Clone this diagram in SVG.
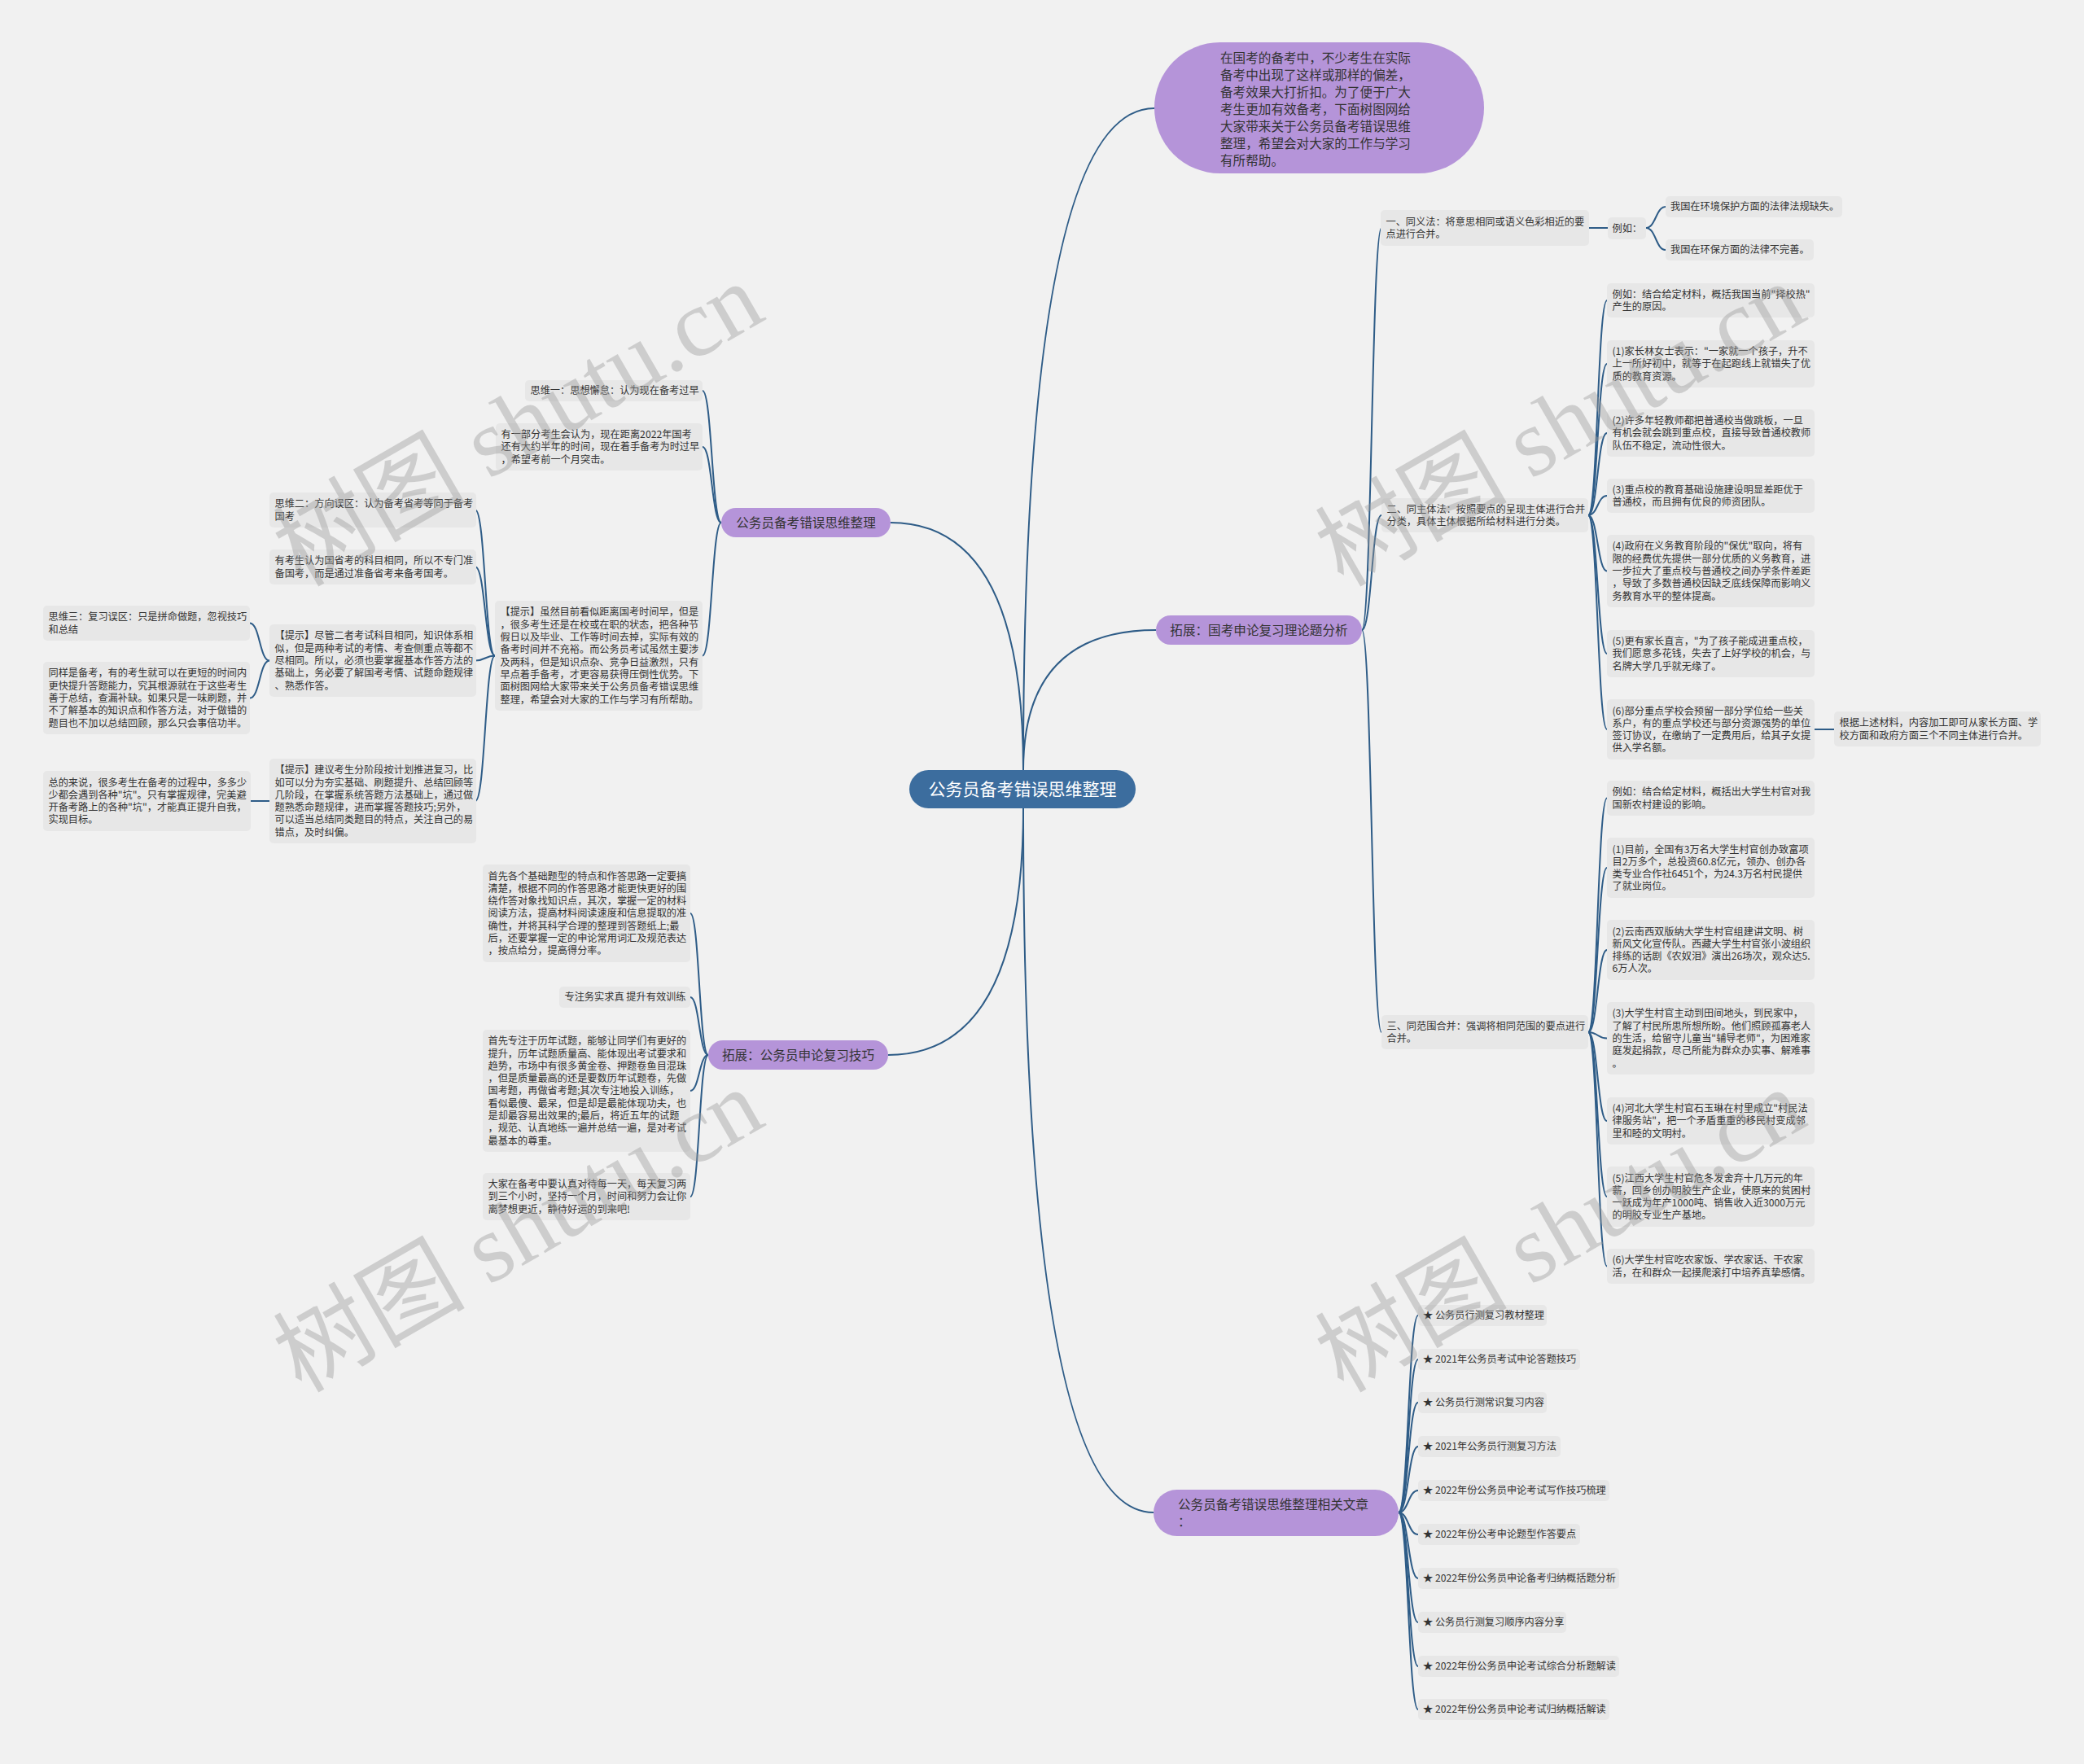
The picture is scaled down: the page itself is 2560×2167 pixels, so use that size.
<svg xmlns="http://www.w3.org/2000/svg" width="2560" height="2167" viewBox="0 0 2560 2167">
<style>
.lf{fill:#e7e7e7}
.t{font-family:'Noto Sans CJK SC','Liberation Sans',sans-serif;font-size:12.2px;fill:#333}
.pill{fill:#b594d9}
.pt{font-family:'Noto Sans CJK SC','Liberation Sans',sans-serif;font-size:15.6px;fill:#333}
.rt{font-family:'Noto Sans CJK SC','Liberation Sans',sans-serif;font-size:21px;fill:#fff}
.c{fill:none;stroke:#2e5c87;stroke-width:2}
.wm{font-family:'Liberation Serif','Noto Sans CJK SC',serif;font-size:118px;fill:#999;opacity:.4}
</style>
<rect x="0" y="0" width="2560" height="2167" fill="#f1f1f1"/>
<g id="connectors">
<path class="c" d="M1257 946 Q1257 133 1418 133"/>
<path class="c" d="M1257 946 Q1257 774 1420 774"/>
<path class="c" d="M1257 993 Q1257 1858 1417 1858"/>
<path class="c" d="M1257 946 Q1257 642 1094 642"/>
<path class="c" d="M1257 993 Q1257 1296 1091 1296"/>
<path class="c" d="M1673 774 C1685 774 1685 280 1697 280"/>
<path class="c" d="M1673 774 C1685 774 1685 633 1697 633"/>
<path class="c" d="M1673 774 C1685 774 1685 1268 1697 1268"/>
<path class="c" d="M1952 280 L1975 280"/>
<path class="c" d="M2022 280 C2034 280 2034 254 2046 254"/>
<path class="c" d="M2022 280 C2034 280 2034 307 2046 307"/>
<path class="c" d="M1951 633 C1962.5 633 1962.5 369 1974 369"/>
<path class="c" d="M1951 633 C1962.5 633 1962.5 447 1974 447"/>
<path class="c" d="M1951 633 C1962.5 633 1962.5 532 1974 532"/>
<path class="c" d="M1951 633 C1962.5 633 1962.5 609 1974 609"/>
<path class="c" d="M1951 633 C1962.5 633 1962.5 701.5 1974 701.5"/>
<path class="c" d="M1951 633 C1962.5 633 1962.5 803 1974 803"/>
<path class="c" d="M1951 633 C1962.5 633 1962.5 896 1974 896"/>
<path class="c" d="M2229 896 L2253 896"/>
<path class="c" d="M1951 1268 C1962.5 1268 1962.5 980.5 1974 980.5"/>
<path class="c" d="M1951 1268 C1962.5 1268 1962.5 1066 1974 1066"/>
<path class="c" d="M1951 1268 C1962.5 1268 1962.5 1167 1974 1167"/>
<path class="c" d="M1951 1268 C1962.5 1268 1962.5 1275.5 1974 1275.5"/>
<path class="c" d="M1951 1268 C1962.5 1268 1962.5 1377 1974 1377"/>
<path class="c" d="M1951 1268 C1962.5 1268 1962.5 1470 1974 1470"/>
<path class="c" d="M1951 1268 C1962.5 1268 1962.5 1555.5 1974 1555.5"/>
<path class="c" d="M1718 1858 C1730 1858 1730 1616 1742 1616"/>
<path class="c" d="M1718 1858 C1730 1858 1730 1670 1742 1670"/>
<path class="c" d="M1718 1858 C1730 1858 1730 1723 1742 1723"/>
<path class="c" d="M1718 1858 C1730 1858 1730 1777 1742 1777"/>
<path class="c" d="M1718 1858 C1730 1858 1730 1831 1742 1831"/>
<path class="c" d="M1718 1858 C1730 1858 1730 1885 1742 1885"/>
<path class="c" d="M1718 1858 C1730 1858 1730 1939 1742 1939"/>
<path class="c" d="M1718 1858 C1730 1858 1730 1993 1742 1993"/>
<path class="c" d="M1718 1858 C1730 1858 1730 2047 1742 2047"/>
<path class="c" d="M1718 1858 C1730 1858 1730 2100 1742 2100"/>
<path class="c" d="M886 642 C874.5 642 874.5 480 863 480"/>
<path class="c" d="M886 642 C874.5 642 874.5 549 863 549"/>
<path class="c" d="M886 642 C874.5 642 874.5 805.5 863 805.5"/>
<path class="c" d="M608 805.5 C596 805.5 596 626.5 584 626.5"/>
<path class="c" d="M608 805.5 C596 805.5 596 696.5 584 696.5"/>
<path class="c" d="M608 805.5 C596 805.5 596 811.5 584 811.5"/>
<path class="c" d="M608 805.5 C596 805.5 596 984 584 984"/>
<path class="c" d="M331 811.5 C319 811.5 319 765.5 307 765.5"/>
<path class="c" d="M331 811.5 C319 811.5 319 857.5 307 857.5"/>
<path class="c" d="M331 984 L308 984"/>
<path class="c" d="M870 1296 C859 1296 859 1122 848 1122"/>
<path class="c" d="M870 1296 C859 1296 859 1225 848 1225"/>
<path class="c" d="M870 1296 C859 1296 859 1340 848 1340"/>
<path class="c" d="M870 1296 C859 1296 859 1470 848 1470"/>
</g>
<g id="root"><rect x="1117" y="946" width="278" height="47" rx="23.5" fill="#3c6d9e"/><text class="rt" x="1256" y="976.5" text-anchor="middle">公务员备考错误思维整理</text></g>
<g id="intro"><rect class="pill" x="1418" y="52" width="405" height="161" rx="80.5"/>
<text class="pt" x="1499" y="77"><tspan>在国考的备考中，不少考生在实际</tspan><tspan x="1499" dy="20.95">备考中出现了这样或那样的偏差，</tspan><tspan x="1499" dy="20.95">备考效果大打折扣。为了便于广大</tspan><tspan x="1499" dy="20.95">考生更加有效备考，下面树图网给</tspan><tspan x="1499" dy="20.95">大家带来关于公务员备考错误思维</tspan><tspan x="1499" dy="20.95">整理，希望会对大家的工作与学习</tspan><tspan x="1499" dy="20.95">有所帮助。</tspan></text></g>
<g id="branch-r"><rect class="pill" x="1420" y="756" width="253" height="36" rx="18"/><text class="pt" x="1546.5" y="780" text-anchor="middle">拓展：国考申论复习理论题分析</text></g>
<g id="branch-related"><rect class="pill" x="1417" y="1830" width="301" height="57" rx="28.5"/><text class="pt" x="1447" y="1853.5"><tspan>公务员备考错误思维整理相关文章</tspan><tspan x="1447" dy="21.5">：</tspan></text></g>
<g id="branch-l1"><rect class="pill" x="886" y="624" width="208" height="36" rx="18"/><text class="pt" x="990" y="648" text-anchor="middle">公务员备考错误思维整理</text></g>
<g id="branch-l2"><rect class="pill" x="870" y="1278" width="221" height="36" rx="18"/><text class="pt" x="980.5" y="1302" text-anchor="middle">拓展：公务员申论复习技巧</text></g>

<g id="r1"><rect class="lf" x="1696" y="258" width="256" height="44" rx="5"/><text class="t" x="1702.5" y="276.8"><tspan>一、同义法：将意思相同或语义色彩相近的要</tspan><tspan x="1702.5" dy="15.3">点进行合并。</tspan></text></g>
<g id="r1-eg"><rect class="lf" x="1975" y="267" width="47" height="27" rx="5"/><text class="t" x="1980.5" y="285">例如：</text></g>
<g id="r1-a"><rect class="lf" x="2046" y="241" width="217" height="26" rx="5"/><text class="t" x="2052" y="258.4">我国在环境保护方面的法律法规缺失。</text></g>
<g id="r1-b"><rect class="lf" x="2046" y="294" width="182" height="26" rx="5"/><text class="t" x="2052" y="311.4">我国在环保方面的法律不完善。</text></g>

<g id="r2"><rect class="lf" x="1697" y="612" width="254" height="42" rx="5"/><text class="t" x="1703.5" y="629.8"><tspan>二、同主体法：按照要点的呈现主体进行合并</tspan><tspan x="1703.5" dy="15.3">分类，具体主体根据所给材料进行分类。</tspan></text></g>
<g id="r2-0"><rect class="lf" x="1974" y="348" width="255" height="42" rx="5"/><text class="t" x="1980.5" y="365.8"><tspan>例如：结合给定材料，概括我国当前"择校热"</tspan><tspan x="1980.5" dy="15.3">产生的原因。</tspan></text></g>
<g id="r2-1"><rect class="lf" x="1974" y="418" width="255" height="58" rx="5"/><text class="t" x="1980.5" y="436.1"><tspan>(1)家长林女士表示："一家就一个孩子，升不</tspan><tspan x="1980.5" dy="15.3">上一所好初中，就等于在起跑线上就错失了优</tspan><tspan x="1980.5" dy="15.3">质的教育资源。</tspan></text></g>
<g id="r2-2"><rect class="lf" x="1974" y="503" width="255" height="58" rx="5"/><text class="t" x="1980.5" y="521.1"><tspan>(2)许多年轻教师都把普通校当做跳板，一旦</tspan><tspan x="1980.5" dy="15.3">有机会就会跳到重点校，直接导致普通校教师</tspan><tspan x="1980.5" dy="15.3">队伍不稳定，流动性很大。</tspan></text></g>
<g id="r2-3"><rect class="lf" x="1974" y="588" width="255" height="42" rx="5"/><text class="t" x="1980.5" y="605.8"><tspan>(3)重点校的教育基础设施建设明显差距优于</tspan><tspan x="1980.5" dy="15.3">普通校，而且拥有优良的师资团队。</tspan></text></g>
<g id="r2-4"><rect class="lf" x="1974" y="657" width="255" height="89" rx="5"/><text class="t" x="1980.5" y="675.3"><tspan>(4)政府在义务教育阶段的"保优"取向，将有</tspan><tspan x="1980.5" dy="15.3">限的经费优先提供一部分优质的义务教育，进</tspan><tspan x="1980.5" dy="15.3">一步拉大了重点校与普通校之间办学条件差距</tspan><tspan x="1980.5" dy="15.3">，导致了多数普通校因缺乏底线保障而影响义</tspan><tspan x="1980.5" dy="15.3">务教育水平的整体提高。</tspan></text></g>
<g id="r2-5"><rect class="lf" x="1974" y="774" width="255" height="58" rx="5"/><text class="t" x="1980.5" y="792.1"><tspan>(5)更有家长直言，"为了孩子能成进重点校，</tspan><tspan x="1980.5" dy="15.3">我们愿意多花钱，失去了上好学校的机会，与</tspan><tspan x="1980.5" dy="15.3">名牌大学几乎就无缘了。</tspan></text></g>
<g id="r2-6"><rect class="lf" x="1974" y="859" width="255" height="74" rx="5"/><text class="t" x="1980.5" y="877.5"><tspan>(6)部分重点学校会预留一部分学位给一些关</tspan><tspan x="1980.5" dy="15.3">系户，有的重点学校还与部分资源强势的单位</tspan><tspan x="1980.5" dy="15.3">签订协议，在缴纳了一定费用后，给其子女提</tspan><tspan x="1980.5" dy="15.3">供入学名额。</tspan></text></g>
<g id="r2-7"><rect class="lf" x="2253" y="874" width="254" height="43" rx="5"/><text class="t" x="2259.5" y="892.3"><tspan>根据上述材料，内容加工即可从家长方面、学</tspan><tspan x="2259.5" dy="15.3">校方面和政府方面三个不同主体进行合并。</tspan></text></g>

<g id="r3"><rect class="lf" x="1697" y="1247" width="254" height="42" rx="5"/><text class="t" x="1703.5" y="1264.8"><tspan>三、同范围合并：强调将相同范围的要点进行</tspan><tspan x="1703.5" dy="15.3">合并。</tspan></text></g>
<g id="r3-0"><rect class="lf" x="1974" y="959" width="255" height="43" rx="5"/><text class="t" x="1980.5" y="977.3"><tspan>例如：结合给定材料，概括出大学生村官对我</tspan><tspan x="1980.5" dy="15.3">国新农村建设的影响。</tspan></text></g>
<g id="r3-1"><rect class="lf" x="1974" y="1029" width="255" height="74" rx="5"/><text class="t" x="1980.5" y="1047.5"><tspan>(1)目前，全国有3万名大学生村官创办致富项</tspan><tspan x="1980.5" dy="15.3">目2万多个，总投资60.8亿元，领办、创办各</tspan><tspan x="1980.5" dy="15.3">类专业合作社6451个，为24.3万名村民提供</tspan><tspan x="1980.5" dy="15.3">了就业岗位。</tspan></text></g>
<g id="r3-2"><rect class="lf" x="1974" y="1130" width="255" height="74" rx="5"/><text class="t" x="1980.5" y="1148.5"><tspan>(2)云南西双版纳大学生村官组建讲文明、树</tspan><tspan x="1980.5" dy="15.3">新风文化宣传队。西藏大学生村官张小波组织</tspan><tspan x="1980.5" dy="15.3">排练的话剧《农奴泪》演出26场次，观众达5.</tspan><tspan x="1980.5" dy="15.3">6万人次。</tspan></text></g>
<g id="r3-3"><rect class="lf" x="1974" y="1231" width="255" height="89" rx="5"/><text class="t" x="1980.5" y="1249.3"><tspan>(3)大学生村官主动到田间地头，到民家中，</tspan><tspan x="1980.5" dy="15.3">了解了村民所思所想所盼。他们照顾孤寡老人</tspan><tspan x="1980.5" dy="15.3">的生活，给留守儿童当"辅导老师"，为困难家</tspan><tspan x="1980.5" dy="15.3">庭发起捐款，尽己所能为群众办实事、解难事</tspan><tspan x="1980.5" dy="15.3">。</tspan></text></g>
<g id="r3-4"><rect class="lf" x="1974" y="1348" width="255" height="58" rx="5"/><text class="t" x="1980.5" y="1366.1"><tspan>(4)河北大学生村官石玉琳在村里成立"村民法</tspan><tspan x="1980.5" dy="15.3">律服务站"，把一个矛盾重重的移民村变成邻</tspan><tspan x="1980.5" dy="15.3">里和睦的文明村。</tspan></text></g>
<g id="r3-5"><rect class="lf" x="1974" y="1433" width="255" height="74" rx="5"/><text class="t" x="1980.5" y="1451.5"><tspan>(5)江西大学生村官危冬发舍弃十几万元的年</tspan><tspan x="1980.5" dy="15.3">薪，回乡创办明胶生产企业，使原来的贫困村</tspan><tspan x="1980.5" dy="15.3">一跃成为年产1000吨、销售收入近3000万元</tspan><tspan x="1980.5" dy="15.3">的明胶专业生产基地。</tspan></text></g>
<g id="r3-6"><rect class="lf" x="1974" y="1534" width="255" height="43" rx="5"/><text class="t" x="1980.5" y="1552.3"><tspan>(6)大学生村官吃农家饭、学农家话、干农家</tspan><tspan x="1980.5" dy="15.3">活，在和群众一起摸爬滚打中培养真挚感情。</tspan></text></g>

<g id="rel-0"><rect class="lf" x="1742" y="1603" width="158" height="26" rx="5"/><text class="t" x="1748" y="1620.4">★ 公务员行测复习教材整理</text></g>
<g id="rel-1"><rect class="lf" x="1742" y="1657" width="199" height="26" rx="5"/><text class="t" x="1748" y="1674.4">★ 2021年公务员考试申论答题技巧</text></g>
<g id="rel-2"><rect class="lf" x="1742" y="1710" width="158" height="26" rx="5"/><text class="t" x="1748" y="1727.4">★ 公务员行测常识复习内容</text></g>
<g id="rel-3"><rect class="lf" x="1742" y="1764" width="175" height="26" rx="5"/><text class="t" x="1748" y="1781.4">★ 2021年公务员行测复习方法</text></g>
<g id="rel-4"><rect class="lf" x="1742" y="1818" width="235" height="26" rx="5"/><text class="t" x="1748" y="1835.4">★ 2022年份公务员申论考试写作技巧梳理</text></g>
<g id="rel-5"><rect class="lf" x="1742" y="1872" width="199" height="26" rx="5"/><text class="t" x="1748" y="1889.4">★ 2022年份公考申论题型作答要点</text></g>
<g id="rel-6"><rect class="lf" x="1742" y="1926" width="247" height="26" rx="5"/><text class="t" x="1748" y="1943.4">★ 2022年份公务员申论备考归纳概括题分析</text></g>
<g id="rel-7"><rect class="lf" x="1742" y="1980" width="182" height="26" rx="5"/><text class="t" x="1748" y="1997.4">★ 公务员行测复习顺序内容分享</text></g>
<g id="rel-8"><rect class="lf" x="1742" y="2034" width="247" height="26" rx="5"/><text class="t" x="1748" y="2051.4">★ 2022年份公务员申论考试综合分析题解读</text></g>
<g id="rel-9"><rect class="lf" x="1742" y="2087" width="235" height="26" rx="5"/><text class="t" x="1748" y="2104.4">★ 2022年份公务员申论考试归纳概括解读</text></g>

<g id="l1-a"><rect class="lf" x="645" y="467" width="218" height="26" rx="5"/><text class="t" x="651.5" y="484.4">思维一：思想懈怠：认为现在备考过早</text></g>
<g id="l1-b"><rect class="lf" x="609" y="520" width="254" height="58" rx="5"/><text class="t" x="615.5" y="538.1"><tspan>有一部分考生会认为，现在距离2022年国考</tspan><tspan x="615.5" dy="15.3">还有大约半年的时间，现在着手备考为时过早</tspan><tspan x="615.5" dy="15.3">，希望考前一个月突击。</tspan></text></g>
<g id="l1-c"><rect class="lf" x="608" y="738" width="255" height="135" rx="5"/><text class="t" x="614.5" y="756.4"><tspan>【提示】虽然目前看似距离国考时间早，但是</tspan><tspan x="614.5" dy="15.3">，很多考生还是在校或在职的状态，把各种节</tspan><tspan x="614.5" dy="15.3">假日以及毕业、工作等时间去掉，实际有效的</tspan><tspan x="614.5" dy="15.3">备考时间并不充裕。而公务员考试虽然主要涉</tspan><tspan x="614.5" dy="15.3">及两科，但是知识点杂、竞争日益激烈，只有</tspan><tspan x="614.5" dy="15.3">早点着手备考，才更容易获得压倒性优势。下</tspan><tspan x="614.5" dy="15.3">面树图网给大家带来关于公务员备考错误思维</tspan><tspan x="614.5" dy="15.3">整理，希望会对大家的工作与学习有所帮助。</tspan></text></g>
<g id="l1-d"><rect class="lf" x="331" y="605" width="254" height="43" rx="5"/><text class="t" x="337.5" y="623.3"><tspan>思维二：方向误区：认为备考省考等同于备考</tspan><tspan x="337.5" dy="15.3">国考</tspan></text></g>
<g id="l1-e"><rect class="lf" x="331" y="675" width="254" height="43" rx="5"/><text class="t" x="337.5" y="693.3"><tspan>有考生认为国省考的科目相同，所以不专门准</tspan><tspan x="337.5" dy="15.3">备国考，而是通过准备省考来备考国考。</tspan></text></g>
<g id="l1-f"><rect class="lf" x="331" y="767" width="254" height="89" rx="5"/><text class="t" x="337.5" y="785.3"><tspan>【提示】尽管二者考试科目相同，知识体系相</tspan><tspan x="337.5" dy="15.3">似，但是两种考试的考情、考查侧重点等都不</tspan><tspan x="337.5" dy="15.3">尽相同。所以，必须也要掌握基本作答方法的</tspan><tspan x="337.5" dy="15.3">基础上，务必要了解国考考情、试题命题规律</tspan><tspan x="337.5" dy="15.3">、熟悉作答。</tspan></text></g>
<g id="l1-g"><rect class="lf" x="331" y="932" width="254" height="104" rx="5"/><text class="t" x="337.5" y="950.2"><tspan>【提示】建议考生分阶段按计划推进复习，比</tspan><tspan x="337.5" dy="15.3">如可以分为夯实基础、刷题提升、总结回顾等</tspan><tspan x="337.5" dy="15.3">几阶段，在掌握系统答题方法基础上，通过做</tspan><tspan x="337.5" dy="15.3">题熟悉命题规律，进而掌握答题技巧;另外，</tspan><tspan x="337.5" dy="15.3">可以适当总结同类题目的特点，关注自己的易</tspan><tspan x="337.5" dy="15.3">错点，及时纠偏。</tspan></text></g>
<g id="l1-h"><rect class="lf" x="53" y="744" width="254" height="43" rx="5"/><text class="t" x="59.5" y="762.3"><tspan>思维三：复习误区：只是拼命做题，忽视技巧</tspan><tspan x="59.5" dy="15.3">和总结</tspan></text></g>
<g id="l1-i"><rect class="lf" x="53" y="813" width="254" height="89" rx="5"/><text class="t" x="59.5" y="831.3"><tspan>同样是备考，有的考生就可以在更短的时间内</tspan><tspan x="59.5" dy="15.3">更快提升答题能力，究其根源就在于这些考生</tspan><tspan x="59.5" dy="15.3">善于总结，查漏补缺。如果只是一味刷题，并</tspan><tspan x="59.5" dy="15.3">不了解基本的知识点和作答方法，对于做错的</tspan><tspan x="59.5" dy="15.3">题目也不加以总结回顾，那么只会事倍功半。</tspan></text></g>
<g id="l1-j"><rect class="lf" x="53" y="947" width="255" height="74" rx="5"/><text class="t" x="59.5" y="965.5"><tspan>总的来说，很多考生在备考的过程中，多多少</tspan><tspan x="59.5" dy="15.3">少都会遇到各种"坑"。只有掌握规律，完美避</tspan><tspan x="59.5" dy="15.3">开备考路上的各种"坑"，才能真正提升自我，</tspan><tspan x="59.5" dy="15.3">实现目标。</tspan></text></g>

<g id="l2-a"><rect class="lf" x="593" y="1062" width="255" height="120" rx="5"/><text class="t" x="599.5" y="1080.5"><tspan>首先各个基础题型的特点和作答思路一定要搞</tspan><tspan x="599.5" dy="15.3">清楚，根据不同的作答思路才能更快更好的围</tspan><tspan x="599.5" dy="15.3">绕作答对象找知识点，其次，掌握一定的材料</tspan><tspan x="599.5" dy="15.3">阅读方法，提高材料阅读速度和信息提取的准</tspan><tspan x="599.5" dy="15.3">确性，并将其科学合理的整理到答题纸上;最</tspan><tspan x="599.5" dy="15.3">后，还要掌握一定的申论常用词汇及规范表达</tspan><tspan x="599.5" dy="15.3">，按点给分，提高得分率。</tspan></text></g>
<g id="l2-b"><rect class="lf" x="687" y="1212" width="161" height="26" rx="5"/><text class="t" x="693.5" y="1229.4">专注务实求真 提升有效训练</text></g>
<g id="l2-c"><rect class="lf" x="593" y="1265" width="255" height="150" rx="5"/><text class="t" x="599.5" y="1283.2"><tspan>首先专注于历年试题，能够让同学们有更好的</tspan><tspan x="599.5" dy="15.3">提升，历年试题质量高、能体现出考试要求和</tspan><tspan x="599.5" dy="15.3">趋势，市场中有很多黄金卷、押题卷鱼目混珠</tspan><tspan x="599.5" dy="15.3">，但是质量最高的还是要数历年试题卷，先做</tspan><tspan x="599.5" dy="15.3">国考题，再做省考题;其次专注地投入训练，</tspan><tspan x="599.5" dy="15.3">看似最傻、最呆，但是却是最能体现功夫，也</tspan><tspan x="599.5" dy="15.3">是却最容易出效果的;最后，将近五年的试题</tspan><tspan x="599.5" dy="15.3">，规范、认真地练一遍并总结一遍，是对考试</tspan><tspan x="599.5" dy="15.3">最基本的尊重。</tspan></text></g>
<g id="l2-d"><rect class="lf" x="593" y="1441" width="255" height="58" rx="5"/><text class="t" x="599.5" y="1459.1"><tspan>大家在备考中要认真对待每一天，每天复习两</tspan><tspan x="599.5" dy="15.3">到三个小时，坚持一个月，时间和努力会让你</tspan><tspan x="599.5" dy="15.3">离梦想更近，静待好运的到来吧!</tspan></text></g>

<g id="watermarks">
<text class="wm" x="370" y="722" transform="rotate(-30 370 722)">树图 shutu.cn</text>
<text class="wm" x="1650" y="722" transform="rotate(-30 1650 722)">树图 shutu.cn</text>
<text class="wm" x="370" y="1712" transform="rotate(-30 370 1712)">树图 shutu.cn</text>
<text class="wm" x="1650" y="1712" transform="rotate(-30 1650 1712)">树图 shutu.cn</text>
</g>
</svg>
